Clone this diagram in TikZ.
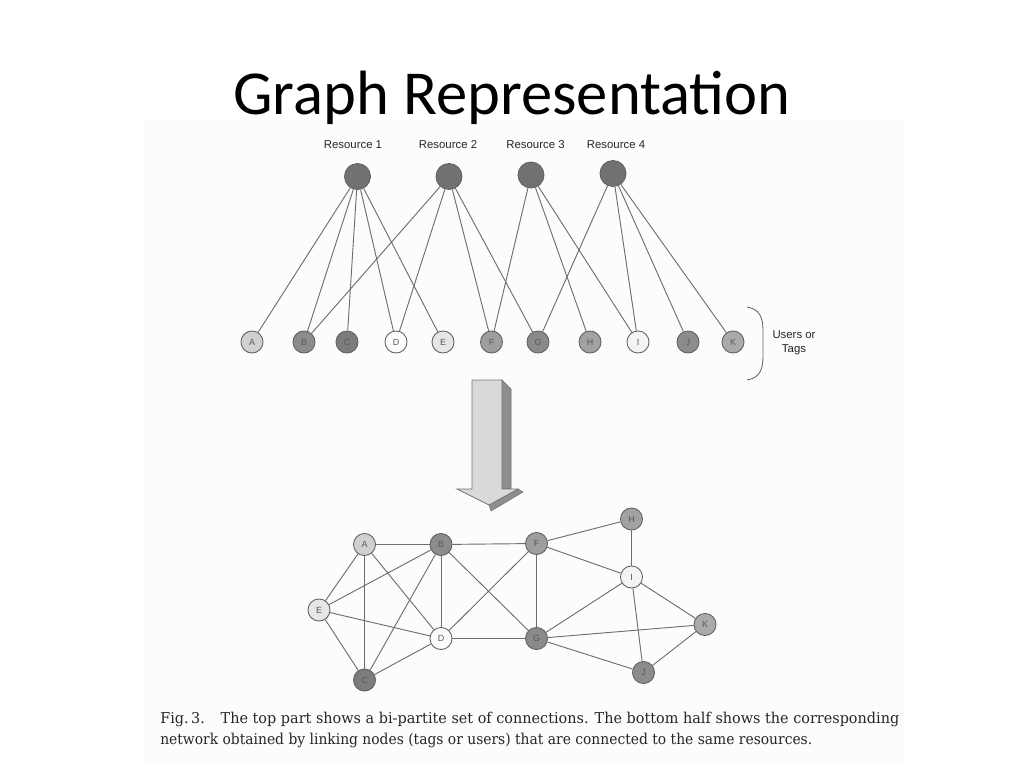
\documentclass[tikz,border=0pt]{standalone}
\usepackage{fontspec}
\usepackage{graphicx}
\newfontfamily\titlefont{Carlito}
\newfontfamily\labelfont{Liberation Sans}
\newfontfamily\capfont{DejaVu Serif}
\definecolor{figbg}{HTML}{FCFCFC}
\definecolor{edgec}{HTML}{6E6E6E}
\definecolor{bordc}{HTML}{606060}
\definecolor{resc}{HTML}{717171}
\definecolor{fA}{HTML}{D0D0D0}
\definecolor{fB}{HTML}{8C8C8C}
\definecolor{fC}{HTML}{7C7C7C}
\definecolor{fD}{HTML}{FCFCFC}
\definecolor{fE}{HTML}{E6E6E6}
\definecolor{fF}{HTML}{9E9E9E}
\definecolor{fG}{HTML}{8A8A8A}
\definecolor{fH}{HTML}{A2A2A2}
\definecolor{fI}{HTML}{F4F4F4}
\definecolor{fJ}{HTML}{8C8C8C}
\definecolor{fK}{HTML}{AAAAAA}
\definecolor{arrface}{HTML}{D9D9D9}
\definecolor{arrside}{HTML}{8E8E8E}
\begin{document}
\begin{tikzpicture}[x=0.703125pt,y=-0.703125pt,
  res/.style={circle,draw=bordc,line width=0.6pt,fill=resc,minimum size=18.3pt,inner sep=0pt},
  usr/.style={circle,draw=bordc,line width=0.6pt,minimum size=15.5pt,inner sep=0pt,
    font=\labelfont\fontsize{6.3}{7}\selectfont,text=black!65},
  lnk/.style={draw=edgec,line width=0.65pt},
  reslabel/.style={font=\labelfont\fontsize{8}{9.5}\selectfont,text=black!85,inner sep=0pt}]
\useasboundingbox (0,0) rectangle (1024,768);
\fill[white] (0,0) rectangle (1024,768);
\fill[figbg] (143,120) rectangle (905,764);

% title
\node[font=\titlefont\fontsize{44}{50}\selectfont,anchor=base,inner sep=0pt] (title) at (512,115) {Graph Representation};

% resources
\node[reslabel] (l1) at (353,145) {Resource 1};
\node[reslabel] (l2) at (448,145) {Resource 2};
\node[reslabel] (l3) at (535.5,145) {Resource 3};
\node[reslabel] (l4) at (616,145) {Resource 4};
\node[res] (r1) at (357.5,176.5) {};
\node[res] (r2) at (449,176.5) {};
\node[res] (r3) at (531,175) {};
\node[res] (r4) at (613,173.5) {};

% users / tags (top)
\node[usr,fill=fA] (tA) at (252,342) {A};
\node[usr,fill=fB] (tB) at (304,342) {B};
\node[usr,fill=fC] (tC) at (347,342) {C};
\node[usr,fill=fD] (tD) at (396,342) {D};
\node[usr,fill=fE] (tE) at (443,342) {E};
\node[usr,fill=fF] (tF) at (491.5,342) {F};
\node[usr,fill=fG] (tG) at (538,342) {G};
\node[usr,fill=fH] (tH) at (590,342) {H};
\node[usr,fill=fI] (tI) at (638,342) {I};
\node[usr,fill=fJ] (tJ) at (688,342) {J};
\node[usr,fill=fK] (tK) at (733,342) {K};

\foreach \u in {A,B,C,D,E} \draw[lnk] (r1) -- (t\u);
\foreach \u in {B,D,F,G} \draw[lnk] (r2) -- (t\u);
\foreach \u in {F,H,I} \draw[lnk] (r3) -- (t\u);
\foreach \u in {G,I,J,K} \draw[lnk] (r4) -- (t\u);

% brace
\coordinate (bt) at (747,307);
\coordinate (bb) at (747,380);
\draw[draw=black!60,line width=0.6pt] (bt) .. controls (760,309) and (763,318) .. (763,331)
  -- (763,356) .. controls (763,369) and (760,378) .. (bb);
\node[font=\labelfont\fontsize{8}{9.5}\selectfont,align=center,inner sep=0pt,text=black!85] (users) at (794,343) {Users or\\Tags};

% big arrow
\fill[arrside,draw=black!55,line width=0.4pt] (502,380) -- (511,389) -- (511,489) -- (502,489) -- cycle;
\fill[arrside,draw=black!55,line width=0.4pt] (518,489) -- (523,492) -- (491,511) -- (489,505) -- cycle;
\fill[arrface,draw=black!55,line width=0.5pt] (472,380) -- (502,380) -- (502,489) -- (518,489)
  -- (489,505) -- (457,489) -- (472,489) -- cycle;

% bottom network
\node[usr,fill=fA] (bA) at (364.5,544.5) {A};
\node[usr,fill=fB] (bB) at (441,544.5) {B};
\node[usr,fill=fF] (bF) at (536.5,543.5) {F};
\node[usr,fill=fH] (bH) at (631.5,519) {H};
\node[usr,fill=fI] (bI) at (631.5,577) {I};
\node[usr,fill=fE] (bE) at (319,610) {E};
\node[usr,fill=fD] (bD) at (441,638.5) {D};
\node[usr,fill=fG] (bG) at (536.5,638.5) {G};
\node[usr,fill=fK] (bK) at (705,624.5) {K};
\node[usr,fill=fC] (bC) at (364.5,680) {C};
\node[usr,fill=fJ] (bJ) at (643.5,672.5) {J};

\draw[lnk] (bA) -- (bB);
\draw[lnk] (bB) -- (bF);
\draw[lnk] (bF) -- (bH);
\draw[lnk] (bH) -- (bI);
\draw[lnk] (bF) -- (bI);
\draw[lnk] (bF) -- (bG);
\draw[lnk] (bB) -- (bG);
\draw[lnk] (bB) -- (bD);
\draw[lnk] (bD) -- (bF);
\draw[lnk] (bD) -- (bG);
\draw[lnk] (bA) -- (bC);
\draw[lnk] (bA) -- (bE);
\draw[lnk] (bA) -- (bD);
\draw[lnk] (bE) -- (bB);
\draw[lnk] (bE) -- (bD);
\draw[lnk] (bE) -- (bC);
\draw[lnk] (bC) -- (bB);
\draw[lnk] (bC) -- (bD);
\draw[lnk] (bI) -- (bG);
\draw[lnk] (bI) -- (bK);
\draw[lnk] (bI) -- (bJ);
\draw[lnk] (bG) -- (bK);
\draw[lnk] (bG) -- (bJ);
\draw[lnk] (bJ) -- (bK);

% caption
\node[anchor=base west,inner sep=0pt,font=\capfont\fontsize{10.5}{13}\selectfont,text=black!85] (cap1) at (160,723)
  {\resizebox{519.6pt}{\height}{Fig.\,3.\hspace{1.1em}The top part shows a bi-partite set of connections. The bottom half shows the corresponding}};
\node[anchor=base west,inner sep=0pt,font=\capfont\fontsize{10.5}{13}\selectfont,text=black!85] (cap2) at (160,744.5)
  {\resizebox{458.4pt}{\height}{network obtained by linking nodes (tags or users) that are connected to the same resources.}};
\end{tikzpicture}
\end{document}
